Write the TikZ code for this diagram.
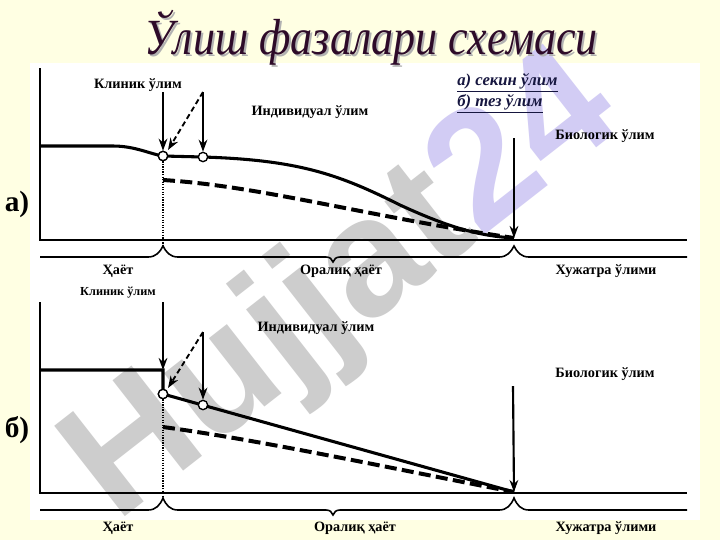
\documentclass[tikz,border=0pt]{standalone}
\usepackage{fontspec}
\setmainfont{Liberation Serif}
\newfontfamily\wmfont{Liberation Sans}
\usepackage{xcolor}
\usetikzlibrary{arrows.meta, positioning, calc}

\definecolor{slidebg}{HTML}{FFFFE3}
\definecolor{titlecol}{HTML}{2E0B29}
\definecolor{legendcol}{HTML}{16163F}
\definecolor{wmgray}{HTML}{CDCDCD}
\definecolor{wmlav}{HTML}{D2CCF4}

\tikzset{
  lbl/.style={font=\bfseries\fontsize{10.7}{12}\selectfont, inner sep=0pt},
  smalllbl/.style={font=\bfseries\fontsize{9.2}{11}\selectfont, inner sep=0pt},
  legend/.style={font=\bfseries\itshape\fontsize{12.5}{14}\selectfont, text=legendcol, inner sep=0pt, anchor=west},
  panellbl/.style={font=\bfseries\fontsize{22}{24}\selectfont, inner sep=0pt},
  dot/.style={circle, draw, fill=white, line width=1pt, inner sep=0pt, minimum size=7pt},
  curve/.style={line width=2.3pt},
  dcurve/.style={line width=3pt, dash pattern=on 9pt off 4pt},
  arr/.style={line width=1.6pt, -{Stealth[length=9pt,width=6.5pt]}},
  darr/.style={line width=1.4pt, dash pattern=on 4pt off 2.5pt, -{Stealth[length=9pt,width=6.5pt]}},
  axis/.style={line width=1.2pt},
  tl/.style={line width=1.2pt},
  titlefont/.style={font=\itshape\fontsize{38}{42}\selectfont, xscale=0.87, inner sep=0pt},
}

\begin{document}
\begin{tikzpicture}[x=0.75pt,y=0.75pt,yscale=-1,xscale=1]
        \useasboundingbox (0,0) rectangle (720,540);
        %Background
        \fill[slidebg] (0,0) rectangle (720,540);
        \fill[white] (30,63) rectangle (700,520);

        %Watermark
        \node[rotate=38, inner sep=0pt, font=\wmfont\bfseries\fontsize{125}{125}\selectfont] (wm) at (345,290) {\textcolor{wmgray}{Hujjat}\textcolor{wmlav}{24}};

        %Title
        \node[titlefont, text=black!30] at (373,40) {Ўлиш фазалари схемаси};
        \node[titlefont, text=titlecol] (title) at (371,38) {Ўлиш фазалари схемаси};

        %Legend
        \node[legend] (slow) at (457,83) {\underline{а) секин ўлим}};
        \node[legend] (fast) at (457,104) {\underline{б) тез ўлим}};

        %%%%%%%%%% panel a %%%%%%%%%%
        \node[panellbl] (la) at (17,204) {а)};

        %Axes
        \coordinate (a-top) at (40,68);
        \coordinate (a-o) at (40,240);
        \coordinate (a-end) at (687,240);
        \draw[axis] (a-top) -- (a-o) -- (a-end);

        %Curve Lines (slow)
        \coordinate (a-p0) at (40,146);
        \coordinate (a-p1) at (113,146);
        \coordinate (a-bio) at (514,238);
        \draw[curve] (a-p0) -- (a-p1) .. controls (135,146) and (150,154) .. (163,156) -- (203,157)
              .. controls (300,160) and (340,175) .. (400,205) .. controls (450,228) and (480,236) .. (a-bio);
        %Curve Lines (dashed)
        \coordinate (a-d0) at (163,180);
        \draw[dcurve] (a-d0) .. controls (260,186) and (360,215) .. (a-bio);

        %Lifeline
        \coordinate (a-k1) at (163,246);
        \coordinate (a-k2) at (514,246);
        \draw[tl] (40,257) -- (148,257) .. controls (156,257) and (160,252) .. (a-k1)
              .. controls (166,252) and (170,257) .. (178,257) -- (326,257)
              .. controls (330,257) and (332,259) .. (333,262) .. controls (334,259) and (336,257) .. (340,257)
              -- (499,257) .. controls (507,257) and (511,252) .. (a-k2)
              .. controls (517,252) and (521,257) .. (529,257) -- (687,257);

        %Points
        \node[dot] (a-c1) at (163,156) {};
        \node[dot] (a-c2) at (203,157) {};
        \draw[densely dotted, line width=0.9pt] (a-c1.south) -- (a-k1);
        \node[dot] at (a-c1) {};

        %Arrows
        \coordinate (a-clin) at (163,92);
        \coordinate (a-ind) at (203,92);
        \coordinate (a-bio-top) at (514,138);
        \draw[arr] (a-clin) -- (a-c1.north);
        \draw[arr] (a-ind) -- (a-c2.north);
        \draw[darr] (a-ind) -- ($(a-c1)+(5,-6)$);
        \draw[arr] (a-bio-top) -- (a-bio);

        %Text Nodes
        \node[lbl] (a-t1) at (138,85) {Клиник ўлим};
        \node[lbl] (a-t2) at (310,112) {Индивидуал ўлим};
        \node[lbl] (a-t3) at (605,136) {Биологик ўлим};
        \node[lbl] (a-s1) at (118,271) {Ҳаёт};
        \node[lbl] (a-s2) at (341,271) {Оралиқ ҳаёт};
        \node[lbl] (a-s3) at (606,271) {Хужатра ўлими};

        %%%%%%%%%% panel b %%%%%%%%%%
        \node[panellbl] (lb) at (17,430) {б)};

        %Axes
        \coordinate (b-top) at (40,302);
        \coordinate (b-o) at (40,493);
        \coordinate (b-end) at (687,493);
        \draw[axis] (b-top) -- (b-o) -- (b-end);

        %Step and lines (fast)
        \coordinate (b-p0) at (40,370);
        \coordinate (b-p1) at (163,370);
        \coordinate (b-bio) at (514,492);
        \draw[curve] (b-p0) -- (b-p1) -- (163,394) -- (b-bio);
        %Curve Lines (dashed)
        \coordinate (b-d0) at (163,427);
        \draw[dcurve] (b-d0) .. controls (260,440) and (400,470) .. (b-bio);

        %Lifeline
        \coordinate (b-k1) at (163,498);
        \coordinate (b-k2) at (514,498);
        \draw[tl] (40,510) -- (148,510) .. controls (156,510) and (160,505) .. (b-k1)
              .. controls (166,505) and (170,510) .. (178,510) -- (326,510)
              .. controls (330,510) and (332,512) .. (333,515) .. controls (334,512) and (336,510) .. (340,510)
              -- (499,510) .. controls (507,510) and (511,505) .. (b-k2)
              .. controls (517,505) and (521,510) .. (529,510) -- (687,510);

        %Points
        \node[dot] (b-c1) at (163,394) {};
        \node[dot] (b-c2) at (203,405) {};
        \draw[densely dotted, line width=0.9pt] (b-c1.south) -- (b-k1);
        \node[dot] at (b-c1) {};

        %Arrows
        \coordinate (b-clin) at (163,302);
        \coordinate (b-ind) at (203,332);
        \coordinate (b-bio-top) at (513,386);
        \draw[arr] (b-clin) -- (b-p1);
        \draw[arr] (b-ind) -- (b-c2.north);
        \draw[darr] (b-ind) -- ($(b-c1)+(5,-6)$);
        \draw[arr] (b-bio-top) -- (b-bio);

        %Text Nodes
        \node[smalllbl] (b-t1) at (118,293) {Клиник ўлим};
        \node[lbl] (b-t2) at (316,328) {Индивидуал ўлим};
        \node[lbl] (b-t3) at (605,374) {Биологик ўлим};
        \node[lbl] (b-s1) at (118,528) {Ҳаёт};
        \node[lbl] (b-s2) at (355,528) {Оралиқ ҳаёт};
        \node[lbl] (b-s3) at (606,528) {Хужатра ўлими};

    \end{tikzpicture}
\end{document}
